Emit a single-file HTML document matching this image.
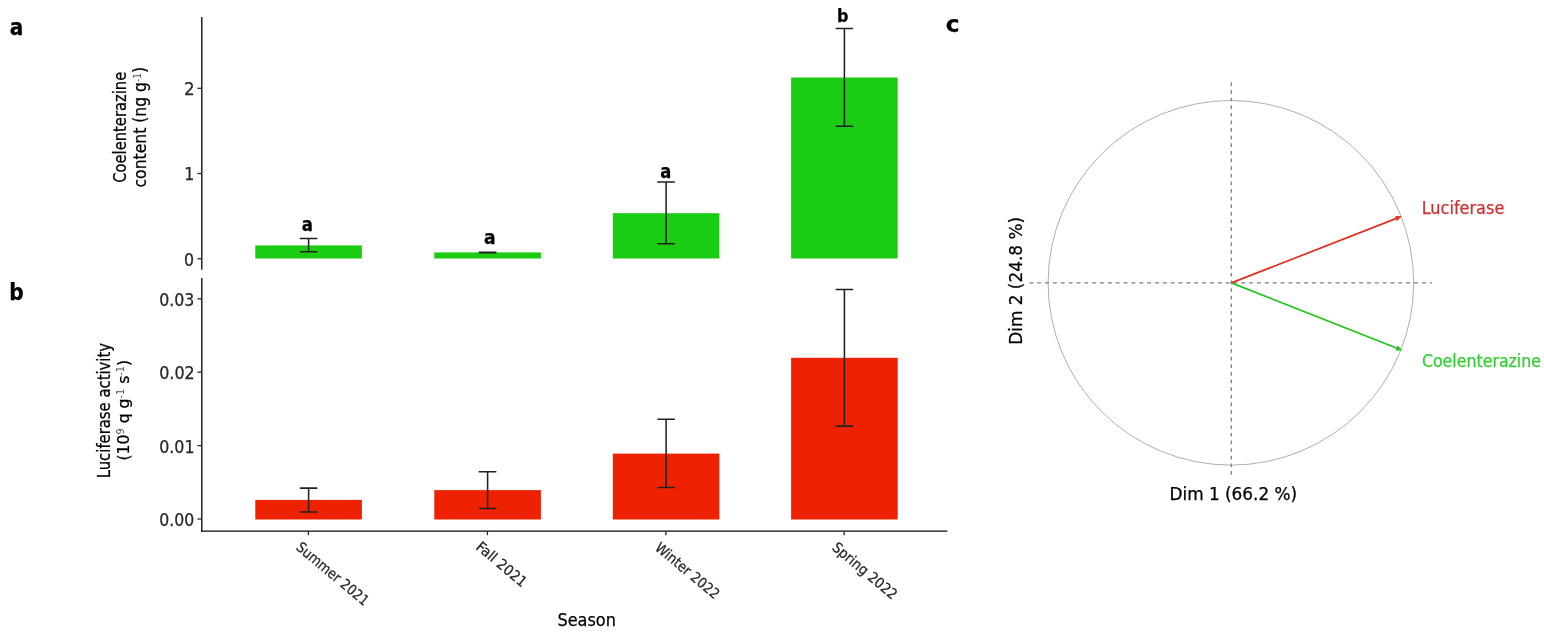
<!DOCTYPE html>
<html lang="en"><head><meta charset="utf-8"><title>Seasonal coelenterazine and luciferase</title>
<style>
html,body{margin:0;padding:0;background:#fff;}
body{width:1544px;height:632px;overflow:hidden;}
svg{display:block;}
text{font-family:"DejaVu Sans Condensed", "DejaVu Sans", "Liberation Sans", sans-serif;fill:#1a1a1a;stroke-width:0.25;}
.b{font-weight:bold;}
.ax{stroke:#0a0a0a;stroke-width:1.35;fill:none;}
.tk{stroke:#2a2a2a;stroke-width:1.3;fill:none;}
.eb{stroke:#222;stroke-width:1.55;fill:none;}
.g{fill:#1acd12;}
.r{fill:#ee2200;}
.dash{stroke:#7e7e7e;stroke-width:1.3;fill:none;}
</style></head><body>
<svg width="1544" height="632" viewBox="0 0 1544 632">
<rect x="0" y="0" width="1544" height="632" fill="#ffffff"/>
<rect class="g" x="255.3" y="245.4" width="106.6" height="13.1"/>
<rect class="g" x="434.3" y="252.4" width="106.6" height="6.1"/>
<rect class="g" x="612.8" y="213.2" width="106.6" height="45.3"/>
<rect class="g" x="791.1" y="77.5" width="106.6" height="181.0"/>
<rect class="r" x="255.3" y="499.9" width="106.6" height="19.6"/>
<rect class="r" x="434.3" y="490.1" width="106.6" height="29.4"/>
<rect class="r" x="612.8" y="453.6" width="106.6" height="65.9"/>
<rect class="r" x="791.1" y="357.8" width="106.6" height="161.7"/>
<path class="eb" d="M299.8 238.4H317.4M299.8 251.8H317.4M308.6 238.4V251.8"/>
<path class="eb" d="M478.8 252.2H496.4M478.8 252.8H496.4M487.6 252.2V252.8"/>
<path class="eb" d="M657.3 182.0H674.9M657.3 243.8H674.9M666.1 182.0V243.8"/>
<path class="eb" d="M835.6 28.5H853.1M835.6 126.2H853.1M844.4 28.5V126.2"/>
<path class="eb" d="M299.8 488.1H317.4M299.8 511.9H317.4M308.6 488.1V511.9"/>
<path class="eb" d="M478.8 471.8H496.4M478.8 508.5H496.4M487.6 471.8V508.5"/>
<path class="eb" d="M657.3 419.3H674.9M657.3 487.5H674.9M666.1 419.3V487.5"/>
<path class="eb" d="M835.6 289.5H853.1M835.6 426.1H853.1M844.4 289.5V426.1"/>
<path class="ax" d="M201.8 17V269.8"/>
<path class="ax" d="M201.8 278V531.8"/>
<path class="ax" d="M201 531.1H947.4"/>
<path class="tk" d="M197.4 88.3H201.8"/>
<path class="tk" d="M197.4 173.5H201.8"/>
<path class="tk" d="M197.4 258.7H201.8"/>
<path class="tk" d="M197.4 298.8H201.8"/>
<path class="tk" d="M197.4 372.2H201.8"/>
<path class="tk" d="M197.4 445.6H201.8"/>
<path class="tk" d="M197.4 519.0H201.8"/>
<path class="tk" d="M308.4 531V535.2"/>
<path class="tk" d="M487.4 531V535.2"/>
<path class="tk" d="M665.9 531V535.2"/>
<path class="tk" d="M844.1 531V535.2"/>
<ellipse cx="1230.9" cy="282.8" rx="182.8" ry="182.3" fill="none" stroke="#aaaaaa" stroke-width="0.95"/>
<path class="dash" stroke-dasharray="3.7 3.92" d="M1231.3 82.4V476.5"/>
<path class="dash" stroke-dasharray="3.9 3.95" d="M1029.4 282.9H1431.9"/>
<path d="M1231.4 282.9L1398.3 348.7" stroke="#22c41c" stroke-width="1.7" fill="none"/>
<path d="M1401.6 350.0L1396.1 350.2L1397.8 346.1Z" fill="#22c41c" stroke="#22c41c" stroke-width="0.8" stroke-linejoin="round"/>
<path d="M1231.4 282.9L1397.7 217.9" stroke="#e0301f" stroke-width="1.7" fill="none"/>
<path d="M1401.0 216.6L1397.1 220.5L1395.5 216.4Z" fill="#e0301f" stroke="#e0301f" stroke-width="0.8" stroke-linejoin="round"/>
<text x="184.07" y="95.10" font-size="18.2" textLength="10.69" lengthAdjust="spacingAndGlyphs" style="fill:#262626;stroke:#262626">2</text>
<text x="184.30" y="180.30" font-size="18.2" textLength="10.12" lengthAdjust="spacingAndGlyphs" style="fill:#262626;stroke:#262626">1</text>
<text x="184.09" y="265.50" font-size="18.2" textLength="10.04" lengthAdjust="spacingAndGlyphs" style="fill:#262626;stroke:#262626">0</text>
<text x="159.19" y="305.90" font-size="18.2" textLength="35.13" lengthAdjust="spacingAndGlyphs" style="fill:#262626;stroke:#262626">0.03</text>
<text x="159.18" y="379.30" font-size="18.2" textLength="35.50" lengthAdjust="spacingAndGlyphs" style="fill:#262626;stroke:#262626">0.02</text>
<text x="159.18" y="452.70" font-size="18.2" textLength="35.34" lengthAdjust="spacingAndGlyphs" style="fill:#262626;stroke:#262626">0.01</text>
<text x="159.19" y="526.10" font-size="18.2" textLength="34.93" lengthAdjust="spacingAndGlyphs" style="fill:#262626;stroke:#262626">0.00</text>
<text transform="translate(295.17 548.77) rotate(40)" font-size="14.4" textLength="89.64" lengthAdjust="spacingAndGlyphs" style="fill:#262626;stroke:#262626">Summer 2021</text>
<text transform="translate(475.09 548.46) rotate(40)" font-size="14.4" textLength="61.21" lengthAdjust="spacingAndGlyphs" style="fill:#262626;stroke:#262626">Fall 2021</text>
<text transform="translate(654.10 549.15) rotate(40)" font-size="14.4" textLength="78.67" lengthAdjust="spacingAndGlyphs" style="fill:#262626;stroke:#262626">Winter 2022</text>
<text transform="translate(831.24 548.95) rotate(40)" font-size="14.4" textLength="79.56" lengthAdjust="spacingAndGlyphs" style="fill:#262626;stroke:#262626">Spring 2022</text>
<text x="557.47" y="626.30" font-size="18.2" textLength="58.39" lengthAdjust="spacingAndGlyphs" style="fill:#000;stroke:#000">Season</text>
<text transform="translate(125.90 182.81) rotate(-90)" font-size="17.2" textLength="111.05" lengthAdjust="spacingAndGlyphs" style="fill:#000;stroke:#000">Coelenterazine</text>
<text transform="translate(145.90 187.46) rotate(-90)" font-size="17.2" textLength="120.56" lengthAdjust="spacingAndGlyphs" style="fill:#000;stroke:#000">content (ng g<tspan font-size="10" dy="-4.8" style="stroke-width:0;fill:#555">-1</tspan><tspan dy="4.8">)</tspan></text>
<text transform="translate(109.90 478.24) rotate(-90)" font-size="17.2" textLength="135.27" lengthAdjust="spacingAndGlyphs" style="fill:#000;stroke:#000">Luciferase activity</text>
<text transform="translate(129.20 460.54) rotate(-90)" font-size="16.2" textLength="100.68" lengthAdjust="spacingAndGlyphs" style="fill:#000;stroke:#000">(10<tspan font-size="10" dy="-4.8" style="stroke-width:0;fill:#555">9</tspan><tspan dy="4.8"> q g</tspan><tspan font-size="10" dy="-4.8" style="stroke-width:0;fill:#555">-1</tspan><tspan dy="4.8"> s</tspan><tspan font-size="10" dy="-4.8" style="stroke-width:0;fill:#555">-1</tspan><tspan dy="4.8">)</tspan></text>
<text class="b" x="301.82" y="230.60" font-size="19" textLength="11.16" lengthAdjust="spacingAndGlyphs" style="fill:#000;stroke:#000">a</text>
<text class="b" x="483.99" y="243.70" font-size="19" textLength="11.65" lengthAdjust="spacingAndGlyphs" style="fill:#000;stroke:#000">a</text>
<text class="b" x="660.13" y="177.50" font-size="19" textLength="11.04" lengthAdjust="spacingAndGlyphs" style="fill:#000;stroke:#000">a</text>
<text class="b" x="836.88" y="22.00" font-size="18.2" textLength="11.42" lengthAdjust="spacingAndGlyphs" style="fill:#000;stroke:#000">b</text>
<text class="b" x="9.74" y="34.70" font-size="23.5" textLength="13.60" lengthAdjust="spacingAndGlyphs" style="fill:#000;stroke:#000">a</text>
<text class="b" x="9.22" y="300.40" font-size="22.6" textLength="14.43" lengthAdjust="spacingAndGlyphs" style="fill:#000;stroke:#000">b</text>
<text class="b" x="945.71" y="32.40" font-size="23.5" textLength="13.81" lengthAdjust="spacingAndGlyphs" style="fill:#000;stroke:#000">c</text>
<text x="1421.72" y="214.00" font-size="18.2" textLength="82.59" lengthAdjust="spacingAndGlyphs" style="fill:#cb3232;stroke:#cb3232">Luciferase</text>
<text x="1421.93" y="367.30" font-size="18.2" textLength="119.07" lengthAdjust="spacingAndGlyphs" style="fill:#32cd32;stroke:#32cd32">Coelenterazine</text>
<text x="1169.48" y="499.80" font-size="18.5" textLength="127.63" lengthAdjust="spacingAndGlyphs" style="fill:#000;stroke:#000">Dim 1 (66.2 %)</text>
<text transform="translate(1021.90 344.83) rotate(-90)" font-size="18.5" textLength="127.94" lengthAdjust="spacingAndGlyphs" style="fill:#000;stroke:#000">Dim 2 (24.8 %)</text>
</svg></body></html>
